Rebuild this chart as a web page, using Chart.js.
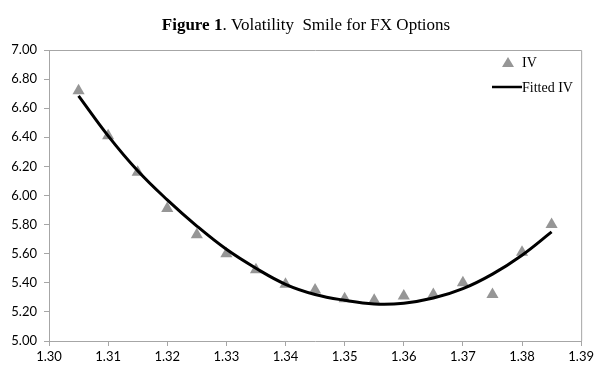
<!DOCTYPE html>
<html>
<head>
<meta charset="utf-8">
<script src="https://cdn.jsdelivr.net/npm/chart.js@4"></script>
<style>
    html, body { margin: 0; padding: 0; background: #fff; }
    #wrap { width: 597px; height: 374px; position: relative; }
</style>
</head>
<body>
<div id="wrap"><canvas id="smileChart"></canvas></div>
<script>
const strikes = [1.305, 1.31, 1.315, 1.32, 1.325, 1.33, 1.335, 1.34, 1.345, 1.35, 1.355, 1.36, 1.365, 1.37, 1.375, 1.38, 1.385];
const impliedVol = [6.72, 6.41, 6.16, 5.91, 5.73, 5.60, 5.49, 5.39, 5.35, 5.29, 5.28, 5.31, 5.32, 5.40, 5.32, 5.61, 5.80];
const fittedVol = [6.685, 6.41, 6.17, 5.97, 5.79, 5.63, 5.50, 5.39, 5.32, 5.28, 5.255, 5.26, 5.295, 5.36, 5.46, 5.59, 5.75];

const titleBold = 'Figure 1';
const titleRest = '. Volatility  Smile for FX Options';
const legendLabels = ['IV', 'Fitted IV'];

const toPoints = (ys) => strikes.map((x, i) => ({ x, y: ys[i] }));

const frameAndTitle = {
    id: 'frameAndTitle',
    afterDraw(chart) {
        const { ctx, chartArea: a } = chart;
        ctx.save();
        // plot border (top + right)
        ctx.strokeStyle = '#a6a6a6';
        ctx.lineWidth = 1;
        ctx.beginPath();
        ctx.moveTo(a.left, a.top + 0.5);
        ctx.lineTo(a.right + 0.5, a.top + 0.5);
        ctx.lineTo(a.right + 0.5, a.bottom);
        ctx.stroke();

        // title
        ctx.fillStyle = '#000';
        ctx.textBaseline = 'alphabetic';
        ctx.font = 'bold 17px "Liberation Serif"';
        const w1 = ctx.measureText(titleBold).width;
        ctx.font = '17px "Liberation Serif"';
        const w2 = ctx.measureText(titleRest).width;
        const x0 = 306 - (w1 + w2) / 2;
        ctx.font = 'bold 17px "Liberation Serif"';
        ctx.fillText(titleBold, x0, 30);
        ctx.font = '17px "Liberation Serif"';
        ctx.fillText(titleRest, x0 + w1, 30);

        // legend
        ctx.font = '14px "Liberation Serif"';
        ctx.fillStyle = '#969696';
        ctx.beginPath();
        ctx.moveTo(508, 57);
        ctx.lineTo(514, 67);
        ctx.lineTo(502, 67);
        ctx.closePath();
        ctx.fill();
        ctx.fillStyle = '#000';
        ctx.fillText(legendLabels[0], 522, 67);
        ctx.strokeStyle = '#000';
        ctx.lineWidth = 2.5;
        ctx.beginPath();
        ctx.moveTo(492, 87);
        ctx.lineTo(522, 87);
        ctx.stroke();
        ctx.fillText(legendLabels[1], 522, 92);
        ctx.restore();
    }
};

const tickFont = { family: 'Lato', size: 13 };

new Chart(document.getElementById('smileChart'), {
    type: 'scatter',
    data: {
        datasets: [{
            label: legendLabels[1],
            data: toPoints(fittedVol),
            showLine: true,
            borderColor: '#000',
            borderWidth: 3,
            pointRadius: 0,
            tension: 0.4,
            order: 0
        }, {
            label: legendLabels[0],
            data: toPoints(impliedVol),
            pointStyle: 'triangle',
            pointRadius: 7,
            backgroundColor: '#969696',
            borderColor: '#969696',
            borderWidth: 0,
            order: 1
        }]
    },
    options: {
        responsive: true,
        maintainAspectRatio: false,
        animation: false,
        layout: { padding: { top: 50, right: 14, left: 0, bottom: 0 } },
        plugins: {
            legend: { display: false },
            tooltip: { enabled: false }
        },
        scales: {
            x: {
                type: 'linear',
                min: 1.30,
                max: 1.39,
                ticks: {
                    stepSize: 0.01,
                    color: '#000',
                    font: tickFont,
                    padding: 3,
                    callback: (v) => v.toFixed(2)
                },
                grid: { drawOnChartArea: false, tickLength: 5, color: '#a6a6a6' },
                border: { color: '#a6a6a6' },
                afterFit: (s) => { s.height = 33; }
            },
            y: {
                min: 5,
                max: 7,
                ticks: {
                    stepSize: 0.2,
                    color: '#000',
                    font: tickFont,
                    padding: 7,
                    callback: (v) => v.toFixed(2)
                },
                grid: { drawOnChartArea: false, tickLength: 5, color: '#a6a6a6' },
                border: { color: '#a6a6a6' },
                afterFit: (s) => { s.width = 49; }
            }
        }
    },
    plugins: [frameAndTitle]
});
</script>
</body>
</html>
